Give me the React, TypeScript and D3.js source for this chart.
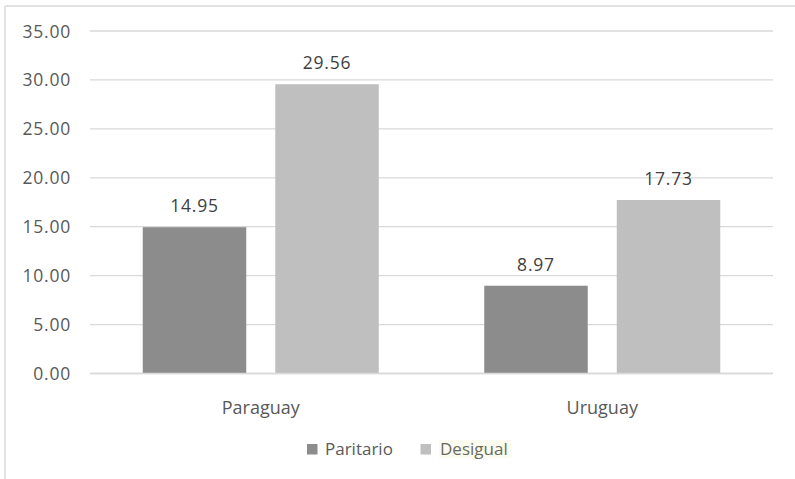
import React from "react";
import * as d3 from "d3";

const categories = ["Paraguay", "Uruguay"];
const seriesNames = ["Paritario", "Desigual"];
const paritario = [14.95, 8.97];
const desigual = [29.56, 17.73];
const yTicks = [0, 5, 10, 15, 20, 25, 30, 35];

const colors = ["#8c8c8c", "#bfbfbf"];
const FONT = "'Open Sans', 'Segoe UI', sans-serif";

export default function App() {
  const W = 795, H = 479;
  const left = 90, right = 773, top = 31, bottom = 373.5;
  const x0 = d3.scaleBand<string>().domain(categories).range([left, right]).paddingInner(0).paddingOuter(0);
  const groupInner = 236;
  const x1 = d3.scaleBand<string>().domain(seriesNames).range([0, groupInner]).paddingInner(0.219).paddingOuter(0);
  const y = d3.scaleLinear().domain([0, 35]).range([bottom, top]);
  const data = [paritario, desigual];
  const offset = (x0.bandwidth() - groupInner) / 2;

  return (
    <svg width={W} height={H} style={{ position: "absolute", left: 0, top: 0, background: "#fff" }}>
      <rect x={0} y={0} width={W} height={H} fill="#fff" />
      <line x1={5} y1={6} x2={W} y2={6} stroke="#d9d9d9" strokeWidth={1.5} />
      <line x1={5} y1={6} x2={5} y2={H} stroke="#d9d9d9" strokeWidth={1.5} />
      {yTicks.map((t) => (
        <g key={t}>
          <line x1={left} x2={right} y1={y(t)} y2={y(t)} stroke="#d9d9d9" strokeWidth={1.3} />
          <text x={71} y={y(t) + 6.5} textAnchor="end" fontFamily={FONT} fontSize={17.5} fill="#595959" letterSpacing={0.8}>
            {t.toFixed(2)}
          </text>
        </g>
      ))}
      {categories.map((c, ci) => (
        <g key={c}>
          {seriesNames.map((s, si) => {
            const v = data[si][ci];
            const bx = (x0(c) as number) + offset + (x1(s) as number);
            return (
              <g key={s}>
                <rect x={bx} y={y(v)} width={x1.bandwidth()} height={bottom - y(v)} fill={colors[si]} />
                <text x={bx + x1.bandwidth() / 2} y={y(v) - 15} textAnchor="middle" fontFamily={FONT} fontSize={17.5} fill="#404040" letterSpacing={0.8}>
                  {v.toFixed(2)}
                </text>
              </g>
            );
          })}
          <text x={(x0(c) as number) + x0.bandwidth() / 2} y={414} textAnchor="middle" fontFamily={FONT} fontSize={18} fill="#595959">
            {c}
          </text>
        </g>
      ))}
      <line x1={left} x2={right} y1={bottom} y2={bottom} stroke="#d9d9d9" strokeWidth={1.5} />
      {/* legend */}
      <rect x={439} y={440} width={72} height={18} fill="#fbfbef" />
      <rect x={307} y={444} width={10.5} height={10.5} fill={colors[0]} />
      <text x={325} y={455} fontFamily={FONT} fontSize={17} fill="#595959">{seriesNames[0]}</text>
      <rect x={420.5} y={444} width={10.5} height={10.5} fill={colors[1]} />
      <text x={440} y={455} fontFamily={FONT} fontSize={17} fill="#6a6a5c">{seriesNames[1]}</text>
    </svg>
  );
}
